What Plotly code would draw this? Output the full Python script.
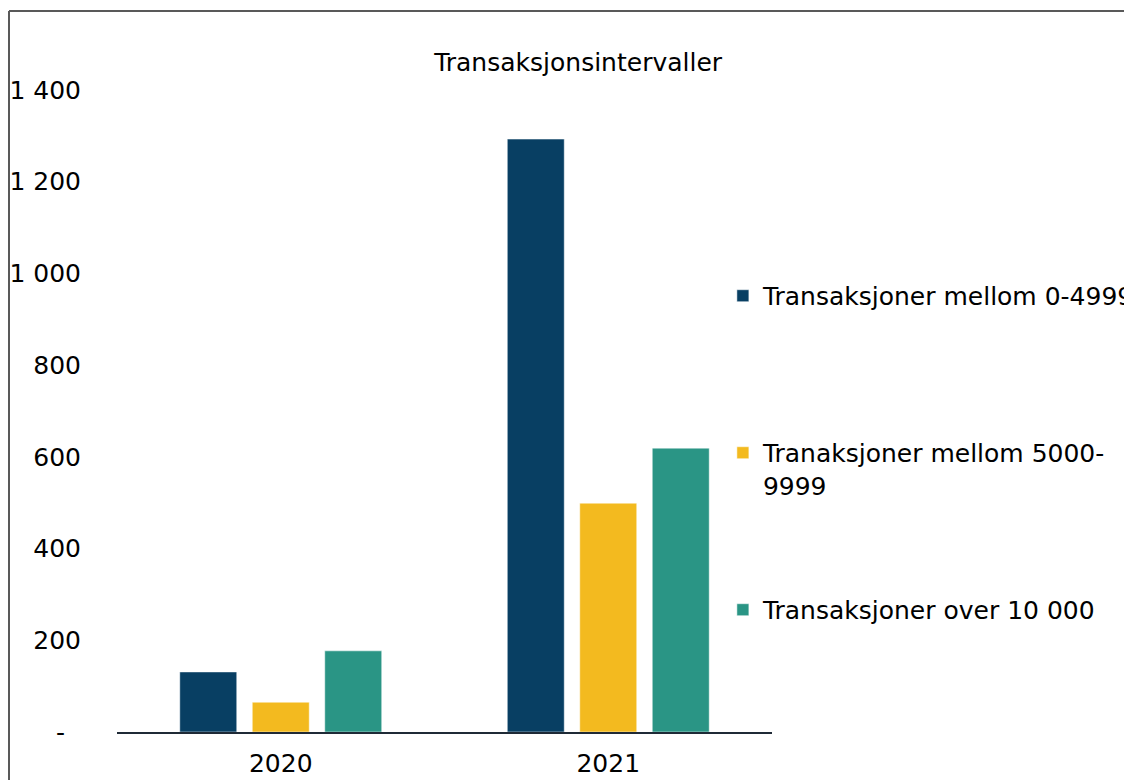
import plotly.graph_objects as go

# data
years = ["2020", "2021"]
series_names = [
    "Transaksjoner mellom 0-4999<br> ",
    "Tranaksjoner mellom 5000-<br>9999",
    "Transaksjoner over 10 000",
]
small = [131, 1293]      # 0-4999
medium = [65, 499]       # 5000-9999
large = [177, 619]       # over 10 000
colors = ["#083F63", "#F3BA1F", "#2A9585"]

y_ticks = [0, 200, 400, 600, 800, 1000, 1200, 1400]
y_ticktext = ["-\u00a0\u00a0", "200", "400", "600", "800", "1 000", "1 200", "1 400"]

FONT = "DejaVu Sans"

fig = go.Figure()
for i, (name, vals) in enumerate(zip(series_names, [small, medium, large])):
    fig.add_trace(go.Bar(
        x=years, y=vals, name=name,
        marker_color=colors[i],
        marker_line=dict(color="white", width=0.5),
        legendgroup=str(i),
    ))

# page body adds 8px offset, so layout numbers are shifted by -8
fig.update_layout(
    width=1132, height=780,
    margin=dict(l=109, r=368, t=82, b=56, autoexpand=False),
    paper_bgcolor="white", plot_bgcolor="white",
    font=dict(family=FONT, size=25, color="#000000"),
    barmode="group", bargap=0.336, bargroupgap=0.214,
    title=dict(text="Transaksjonsintervaller", x=0.704, xref="paper",
               xanchor="center", y=1 - 54 / 780, yanchor="middle",
               font=dict(family=FONT, size=25, color="#000000")),
    legend=dict(x=0.925, xanchor="left", y=0.715, yanchor="top",
                font=dict(family=FONT, size=25, color="#000000"),
                tracegroupgap=89, valign="top", bgcolor="rgba(0,0,0,0)"),
    showlegend=True,
)
fig.update_yaxes(range=[0, 1400], tickvals=y_ticks, ticktext=y_ticktext,
                 showgrid=False, zeroline=False, showline=False,
                 ticklabelstandoff=35)
fig.update_xaxes(showline=True, linecolor="#1F2A36", linewidth=2,
                 showgrid=False, ticks="", ticklabelstandoff=8)

# outer frame (top and left edges visible in the crop)
x0 = (1 - 109) / 655
y0 = (724 - 3) / 642
fig.add_shape(type="line", xref="paper", yref="paper",
              x0=x0, x1=x0, y0=y0, y1=-0.2, line=dict(color="#595959", width=2))
fig.add_shape(type="line", xref="paper", yref="paper",
              x0=x0, x1=1.8, y0=y0, y1=y0, line=dict(color="#595959", width=2))

fig.write_html("out.html")
